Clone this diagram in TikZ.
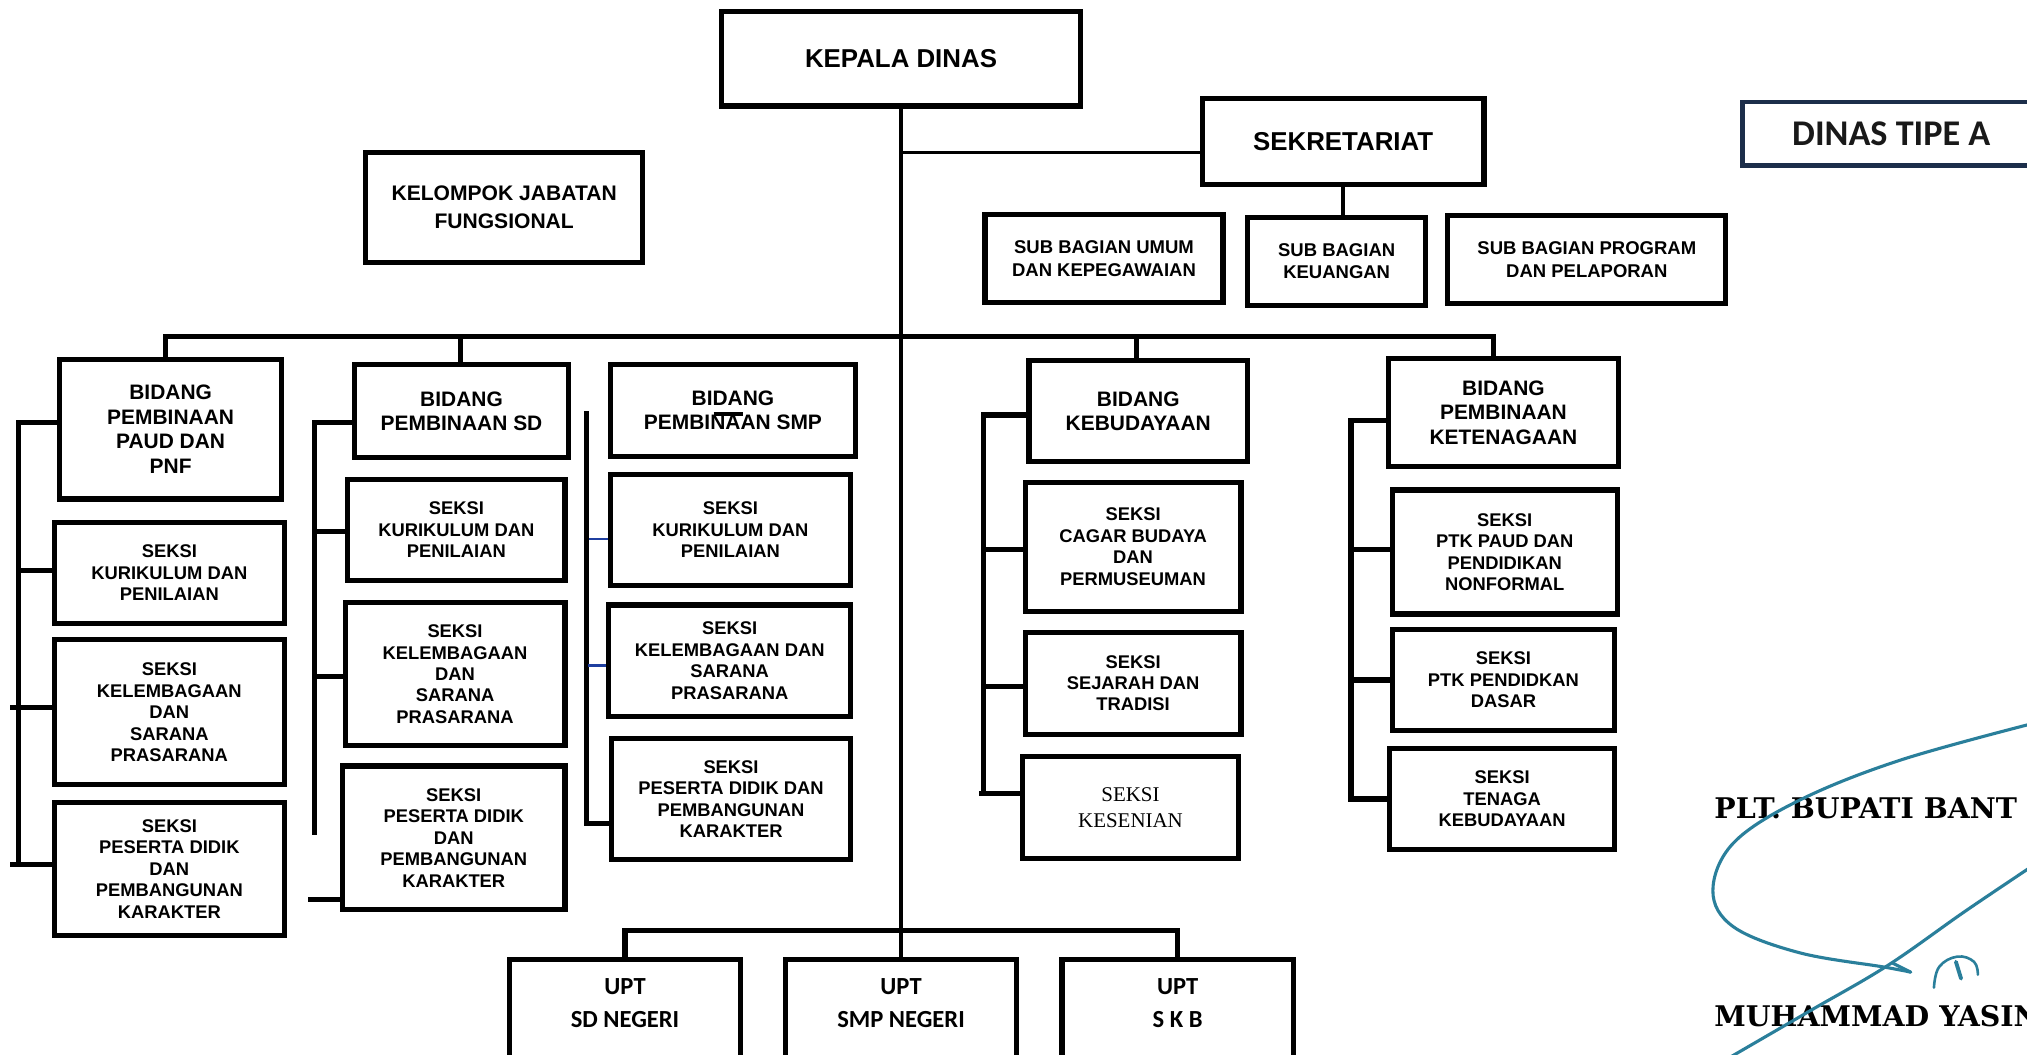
\documentclass[tikz,border=0pt]{standalone}
\usepackage{fontspec}
\setmainfont{Liberation Sans}
\newfontfamily\carlitof{Carlito}
\newfontfamily\timesf{Liberation Serif}
\newfontfamily\sigf{DejaVu Serif}
\definecolor{navy}{HTML}{1C2E4A}
\definecolor{sigteal}{HTML}{2A7F9B}
\definecolor{tickblue}{HTML}{1F3FA0}
\begin{document}
\begin{tikzpicture}[x=1pt,y=-1pt,
  box/.style={draw, line width=4pt, inner sep=0pt, align=center, fill=white},
  sz/.style 2 args={minimum width=#1-4, minimum height=#2-4},
  topbox/.style={box, font=\bfseries\fontsize{20}{24}\selectfont},
  subbox/.style={box, font=\bfseries\fontsize{14.3}{17.5}\selectfont},
  kelbox/.style={box, font=\bfseries\fontsize{16.3}{22}\selectfont},
  bidbox/.style={box, font=\bfseries\fontsize{16.2}{19}\selectfont},
  sekbox/.style={box, font=\bfseries\fontsize{14.2}{16.6}\selectfont},
  timbox/.style={box, font=\timesf\fontsize{16.2}{20}\selectfont},
  uptbox/.style={box},
  upttext/.style={align=center, inner sep=0pt, font=\carlitof\bfseries\fontsize{19}{26}\selectfont},
  tipebox/.style={draw=navy, line width=3.5pt, inner sep=0pt, align=center, fill=white,
                  text=black!90, font=\carlitof\bfseries\fontsize{28}{32}\selectfont},
  conn/.style={line width=4pt, line cap=rect},
  thinconn/.style={line width=2.2pt},
  bluetick/.style={line width=2pt, draw=tickblue},
  sig/.style={draw=sigteal, line width=2.4pt, line cap=round, line join=round},
  sigtext/.style={anchor=base west, inner sep=0pt, font=\sigf\bfseries\fontsize{22}{26}\selectfont}
]
\useasboundingbox (0,0) rectangle (1568,816);
\fill[white] (0,0) rectangle (1568,816);
\clip (0,0) rectangle (1568,816);

% ---------- top ----------
\node[topbox, sz={282}{77}] (kepala) at (697,45.5) {KEPALA DINAS};
\node[topbox, sz={222}{71}] (sekre) at (1039,109.5) {SEKRETARIAT};
\node[subbox, sz={188}{72}] (sbumum) at (854,200) {SUB BAGIAN UMUM\\DAN KEPEGAWAIAN};
\node[subbox, sz={142}{72}] (sbkeu) at (1034,202) {SUB BAGIAN\\KEUANGAN};
\node[subbox, sz={219}{72}] (sbprog) at (1227.5,201) {SUB BAGIAN PROGRAM\\DAN PELAPORAN};
\node[kelbox, sz={218}{89}] (kjf) at (390,160.5) {KELOMPOK JABATAN\\FUNGSIONAL};
\node[tipebox, sz={234}{53}] (tipea) at (1463,103.5) {DINAS TIPE A};

% ---------- bidang ----------
\node[bidbox, sz={176}{112}] (paudB) at (132,332) {BIDANG\\PEMBINAAN\\PAUD DAN\\PNF};
\node[bidbox, sz={170}{76}] (sdB) at (357,318) {BIDANG\\PEMBINAAN SD};
\node[bidbox, sz={194}{75}] (smpB) at (567,317.5) {BIDANG\\PEMBINAAN SMP};
\node[bidbox, sz={173}{82}] (kebB) at (880.5,318) {BIDANG\\KEBUDAYAAN};
\node[bidbox, sz={182}{88}] (ketB) at (1163,319) {BIDANG\\PEMBINAAN\\KETENAGAAN};

% ---------- seksi ----------
\node[sekbox, sz={182}{82}] (paudK) at (131,443) {SEKSI\\KURIKULUM DAN\\PENILAIAN};
\node[sekbox, sz={182}{116}] (paudL) at (131,551) {SEKSI\\KELEMBAGAAN\\DAN\\SARANA\\PRASARANA};
\node[sekbox, sz={182}{107}] (paudP) at (131,672) {SEKSI\\PESERTA DIDIK\\DAN\\PEMBANGUNAN\\KARAKTER};

\node[sekbox, sz={172}{82}] (sdK) at (353,410) {SEKSI\\KURIKULUM DAN\\PENILAIAN};
\node[sekbox, sz={174}{115}] (sdL) at (352,521.5) {SEKSI\\KELEMBAGAAN\\DAN\\SARANA\\PRASARANA};
\node[sekbox, sz={176}{115}] (sdP) at (351,648) {SEKSI\\PESERTA DIDIK\\DAN\\PEMBANGUNAN\\KARAKTER};

\node[sekbox, sz={190}{90}] (smpK) at (565,410) {SEKSI\\KURIKULUM DAN\\PENILAIAN};
\node[sekbox, sz={191}{90}] (smpL) at (564.5,511) {SEKSI\\KELEMBAGAAN DAN\\SARANA\\PRASARANA};
\node[sekbox, sz={189}{98}] (smpP) at (565.5,618) {SEKSI\\PESERTA DIDIK DAN\\PEMBANGUNAN\\KARAKTER};

\node[sekbox, sz={171}{104}] (kebC) at (876.5,423) {SEKSI\\CAGAR BUDAYA\\DAN\\PERMUSEUMAN};
\node[sekbox, sz={171}{83}] (kebS) at (876.5,528.5) {SEKSI\\SEJARAH DAN\\TRADISI};
\node[timbox, sz={171}{83}] (kebK) at (874.5,624.5) {SEKSI\\KESENIAN};

\node[sekbox, sz={178}{100}] (ketP) at (1164,427) {SEKSI\\PTK PAUD DAN\\PENDIDIKAN\\NONFORMAL};
\node[sekbox, sz={176}{82}] (ketD) at (1163,526) {SEKSI\\PTK PENDIDKAN\\DASAR};
\node[sekbox, sz={178}{82}] (ketT) at (1162,618) {SEKSI\\TENAGA\\KEBUDAYAAN};

% ---------- UPT ----------
\node[uptbox, sz={183}{90}, label={[upttext, yshift=9pt]center:{UPT\\SD NEGERI}}] (u1) at (483.5,785) {};
\node[uptbox, sz={183}{90}, label={[upttext, yshift=9pt]center:{UPT\\SMP NEGERI}}] (u2) at (697,785) {};
\node[uptbox, sz={183}{90}, label={[upttext, yshift=9pt]center:{UPT\\S K B}}] (u3) at (911,785) {};

% ---------- connectors ----------
\draw[line width=3.6pt] (kepala.south) -- (u2.north);
\coordinate (js) at (697,118);
\draw[thinconn] (js) -- (js -| sekre.west);
\draw[line width=3.6pt] (sekre.south) -- (sekre.south |- sbkeu.north);

% bidang bar
\coordinate (jP) at (128,260);
\coordinate (jS) at (356,260);
\coordinate (jB) at (879,260);
\coordinate (jK) at (1155,260);
\draw[conn] (jP) -- (jK);
\draw[conn] (jP) -- (jP |- paudB.north);
\draw[conn] (jS) -- (jS |- sdB.north);
\draw[conn] (jB) -- (jB |- kebB.north);
\draw[conn] (jK) -- (jK |- ketB.north);

% PAUD bracket
\coordinate (pa1) at (14,327);
\coordinate (pa2) at (14,441);
\coordinate (pa3) at (10,547);
\coordinate (pa4) at (14,669);
\coordinate (pa5) at (10,669);
\draw[conn] (pa1) -- (pa4);
\draw[conn] (pa1) -- (pa1 -| paudB.west);
\draw[conn] (pa2) -- (pa2 -| paudK.west);
\draw[conn] (pa3) -- (pa3 -| paudL.west);
\draw[conn] (pa5) -- (pa5 -| paudP.west);

% SD bracket
\coordinate (sd1) at (243,327);
\coordinate (sd2) at (243,411);
\coordinate (sd3) at (243,523);
\coordinate (sd4) at (243,644);
\coordinate (sd5) at (240,696);
\draw[conn] (sd1) -- (sd4);
\draw[conn] (sd1) -- (sd1 -| sdB.west);
\draw[conn] (sd2) -- (sd2 -| sdK.west);
\draw[conn] (sd3) -- (sd3 -| sdL.west);
\draw[conn] (sd5) -- (sd5 -| sdP.west);

% SMP bracket
\coordinate (sm1) at (454,320);
\coordinate (sm2) at (456,417);
\coordinate (sm3) at (455,515);
\coordinate (sm4) at (454,637);
\draw[conn] (sm1) -- (sm4);
\draw[bluetick] (sm2) -- (sm2 -| smpK.west);
\draw[bluetick] (sm3) -- (sm3 -| smpL.west);
\draw[conn] (sm4) -- (sm4 -| smpP.west);
\draw[line width=3pt] (552,320) -- (575,320);

% KEBUDAYAAN bracket
\coordinate (kb1) at (761,321);
\coordinate (kb2) at (761,425);
\coordinate (kb3) at (761,531);
\coordinate (kb4) at (761,614);
\coordinate (kb5) at (759,614);
\draw[conn] (kb1) -- (kb4);
\draw[conn] (kb1) -- (kb1 -| kebB.west);
\draw[conn] (kb2) -- (kb2 -| kebC.west);
\draw[conn] (kb3) -- (kb3 -| kebS.west);
\draw[conn] (kb5) -- (kb5 -| kebK.west);

% KETENAGAAN bracket
\coordinate (kt1) at (1045,325);
\coordinate (kt2) at (1045,425);
\coordinate (kt3) at (1045,526);
\coordinate (kt4) at (1045,618);
\draw[conn] (kt1) -- (kt4);
\draw[conn] (kt1) -- (kt1 -| ketB.west);
\draw[conn] (kt2) -- (kt2 -| ketP.west);
\draw[conn] (kt3) -- (kt3 -| ketD.west);
\draw[conn] (kt4) -- (kt4 -| ketT.west);

% UPT bar
\coordinate (ju1) at (483.5,720);
\coordinate (ju3) at (911,720);
\draw[conn] (ju1) -- (ju3);
\draw[conn] (ju1) -- (u1.north);
\draw[conn] (ju3) -- (u3.north);

% ---------- signature ----------
\node[sigtext] (plt) at (1326,633) {PLT. BUPATI BANT};
\node[sigtext] (nama) at (1326,794) {MUHAMMAD YASIN};
\draw[sig] plot[smooth, tension=0.6] coordinates {(1575,559) (1470,588) (1392,619) (1341,652) (1325,689) (1341,717) (1392,737) (1457,748) (1478,752)};
\draw[sig] (1478,752) -- (1464,745);
\draw[sig] plot[smooth, tension=0.6] coordinates {(1575,668) (1520,705) (1460,747) (1400,782) (1338,818)};
\draw[sig, line width=2pt] plot[smooth, tension=0.7] coordinates {(1496,764) (1500,748) (1514,740) (1527,744) (1530,754)};
\draw[sig, line width=3pt] (1513,744) -- (1517,757);
\end{tikzpicture}
\end{document}
